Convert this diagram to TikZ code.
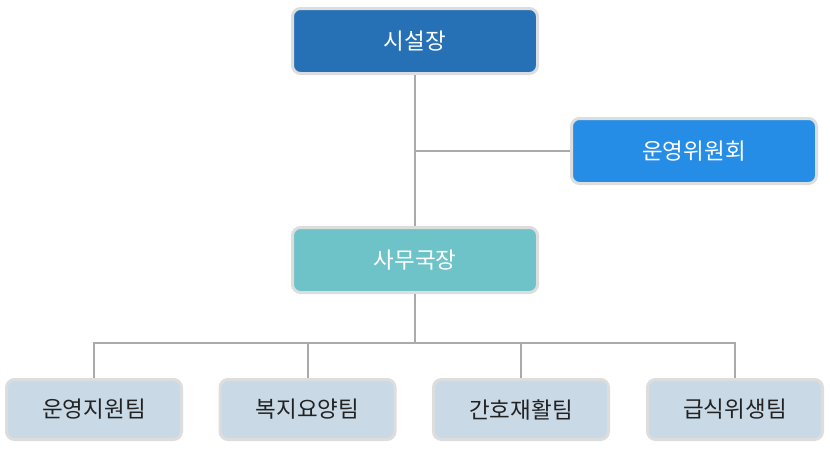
\documentclass[tikz,border=0pt]{standalone}
\usepackage{fontspec}
\setmainfont{Noto Sans CJK KR}
\definecolor{topblue}{HTML}{2671B5}
\definecolor{combl}{HTML}{268DE6}
\definecolor{teal}{HTML}{6EC3C8}
\definecolor{team}{HTML}{C9D9E6}
\definecolor{bord}{HTML}{DDDDDD}
\definecolor{conn}{HTML}{AAAAAA}
\definecolor{dtext}{HTML}{222222}
\begin{document}
\begin{tikzpicture}[x=1pt,y=-1pt,
  box/.style={draw=bord,line width=3pt,rounded corners=8pt,align=center,font=\fontsize{22.5}{24}\selectfont},
  bigbox/.style={box,minimum width=245pt,minimum height=65pt,text=white},
  teambox/.style={box,minimum width=175pt,minimum height=60pt,text=dtext},
  link/.style={draw=conn,line width=2pt}]
\useasboundingbox (0,0) rectangle (830,450);
\node[bigbox,fill=topblue] (top) at (415,41) {시설장};
\node[bigbox,fill=combl] (com) at (694,151) {운영위원회};
\node[bigbox,fill=teal] (mid) at (415,260) {사무국장};
\node[teambox,fill=team] (t1) at (94,409.5) {운영지원팀};
\node[teambox,fill=team] (t2) at (307.5,409.5) {복지요양팀};
\node[teambox,fill=team] (t3) at (521,409.5) {간호재활팀};
\node[teambox,fill=team] (t4) at (735,409.5) {급식위생팀};
\coordinate (j) at (top.south |- com.west);
\coordinate (bus) at (415,343);
\draw[link] (top.south) -- (mid.north);
\draw[link] (j) -- (com.west);
\draw[link] (mid.south) -- (bus);
\draw[link] (bus) -| (t1.north);
\draw[link] (bus) -| (t2.north);
\draw[link] (bus) -| (t3.north);
\draw[link] (bus) -| (t4.north);
\end{tikzpicture}
\end{document}
